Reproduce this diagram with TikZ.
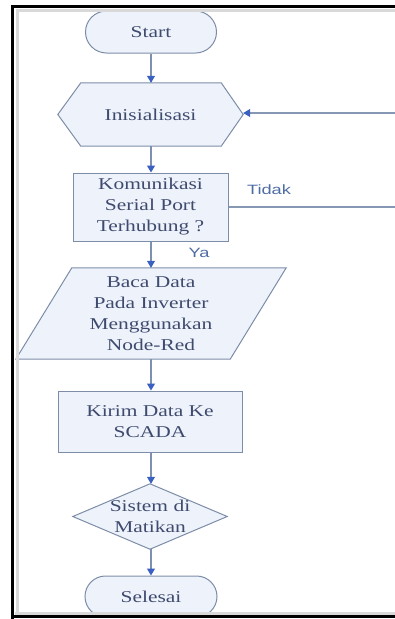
\documentclass[tikz,border=0pt]{standalone}
\usepackage{fontspec}
\setmainfont{Liberation Serif}[FakeStretch=1.3]
\newfontfamily\lblfont{Liberation Sans}[FakeStretch=1.35]
\usetikzlibrary{arrows.meta,backgrounds,calc}
\definecolor{edgec}{HTML}{7D8DA8}
\definecolor{shfill}{HTML}{EEF3FB}
\definecolor{txtc}{HTML}{3E4A6E}
\definecolor{arrc}{HTML}{3A60C2}
\definecolor{lblc}{HTML}{4E6DA6}
\definecolor{connc}{HTML}{7C90B2}
\definecolor{loopc}{HTML}{8798B4}
\begin{document}
\begin{tikzpicture}[x=1pt,y=-1pt,
  txtnode/.style={text=txtc, font=\fontsize{16.5}{21}\selectfont, align=center, inner sep=0pt},
  shp/.style={draw=edgec, fill=shfill, line width=1pt},
  flow/.style={draw=connc, line width=1.1pt, -{Triangle[width=8pt,length=7pt,color=arrc]}},
  loopline/.style={draw=loopc, line width=1.1pt, -{Triangle[width=8pt,length=7pt,color=arrc]}},
  lblnode/.style={text=lblc, font=\lblfont\fontsize{13.5}{16}\selectfont, inner sep=0pt},
  framel/.style={black, line width=3.5pt}]
\useasboundingbox (0,0) rectangle (395,619);

% nodes
\node[txtnode, shp, rounded corners=21pt, minimum width=131pt, minimum height=42pt] (start) at (151,32) {Start};
\node[txtnode, minimum width=185pt, minimum height=63pt] (init) at (150.5,114.5) {Inisialisasi};
\node[txtnode, shp, minimum width=155pt, minimum height=68pt] (conn) at (150.5,207) {Komunikasi\\Serial Port\\Terhubung ?};
\node[txtnode, minimum width=270pt, minimum height=91pt] (read) at (151,313.5) {Baca Data\\Pada Inverter\\Menggunakan\\Node-Red};
\node[txtnode, shp, minimum width=184pt, minimum height=61pt] (send) at (150,421.5) {Kirim Data Ke\\SCADA};
\node[txtnode, minimum width=154pt, minimum height=65pt] (off) at (150,516.5) {Sistem di\\Matikan};
\node[txtnode, shp, rounded corners=20.5pt, minimum width=132pt, minimum height=41pt] (finish) at (151,596.5) {Selesai};

\begin{scope}[on background layer]
  \fill[white] (0,0) rectangle (395,619);
  \draw[shp] (init.west) -- ([xshift=23pt]init.north west) -- ([xshift=-22pt]init.north east)
     -- (init.east) -- ([xshift=-22pt]init.south east) -- ([xshift=23pt]init.south west) -- cycle;
  \draw[shp] ([xshift=56pt]read.north west) -- (read.north east)
     -- ([xshift=-56pt]read.south east) -- (read.south west) -- cycle;
  \draw[shp] (off.north) -- (off.east) -- (off.south) -- (off.west) -- cycle;
\end{scope}

% connectors
\draw[flow] (start.south) -- (start.south |- init.north);
\draw[flow] ([xshift=0.5pt]init.south) -- ([xshift=0.5pt]init.south |- conn.north);
\draw[flow] ([xshift=0.5pt]conn.south) -- ([xshift=0.5pt]conn.south |- read.north);
\draw[flow] (read.south) -- (read.south |- send.north);
\draw[flow] ([xshift=1pt]send.south) -- ([xshift=1pt]send.south |- off.north);
\draw[flow] ([xshift=1pt]off.south) -- ([xshift=1pt]off.south |- finish.north);

\coordinate (r1) at (399,207);
\coordinate (r2) at (399,113);
\begin{scope}
  \clip (0,0) rectangle (395,619);
  \draw[loopline] (conn.east) -- (r1) -- (r2) -- (init.east |- r2);
\end{scope}

\node[lblnode] (tidak) at (269,190) {Tidak};
\node[lblnode] (ya) at (199,253) {Ya};

% frame
\draw[gray!30, line width=3pt] (17,613) -- (17,10) -- (395,10);
\draw[gray!30, line width=3pt] (15,613) -- (395,613);
\draw[framel] (12.5,619) -- (12.5,6.5) -- (395,6.5);
\draw[framel] (10.75,616.5) -- (395,616.5);
\end{tikzpicture}
\end{document}
